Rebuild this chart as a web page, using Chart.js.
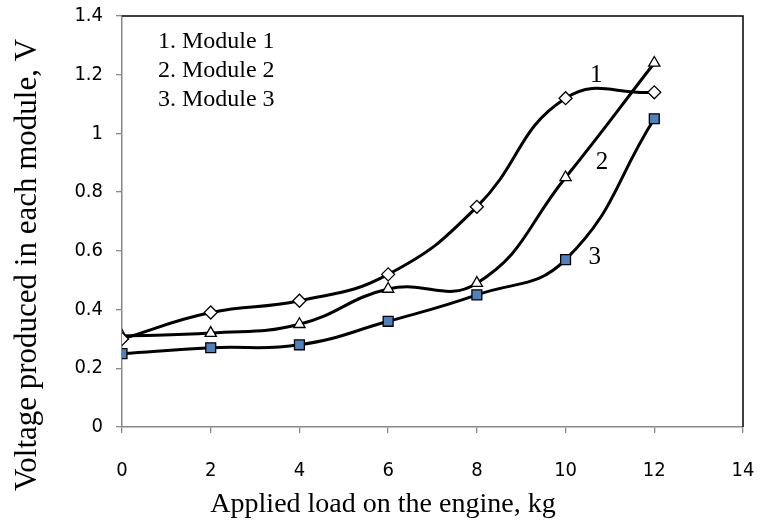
<!DOCTYPE html>
<html>
<head>
<meta charset="utf-8">
<script src="https://cdn.jsdelivr.net/npm/chart.js@4"></script>
<style>
html,body{margin:0;padding:0;background:#fff;}
#wrap{width:770px;height:521px;position:relative;}
</style>
</head>
<body>
<div id="wrap"><canvas id="c" width="770" height="521"></canvas></div>
<script>
const loads = [0, 2, 4, 6, 8, 10, 12];
const module1 = [0.30, 0.39, 0.43, 0.52, 0.75, 1.12, 1.14];
const module2 = [0.31, 0.32, 0.35, 0.47, 0.49, 0.85, 1.24];
const module3 = [0.25, 0.27, 0.28, 0.36, 0.45, 0.57, 1.05];
const legendLines = ['1. Module 1', '2. Module 2', '3. Module 3'];
const curveLabels = ['1', '2', '3'];
const xTicks = [0, 2, 4, 6, 8, 10, 12, 14];
const yTicks = [0, 0.2, 0.4, 0.6, 0.8, 1, 1.2, 1.4];
const xTitle = 'Applied load on the engine, kg';
const yTitle = 'Voltage produced in each module, V';

const toPts = (arr) => loads.map((x, i) => ({x: x, y: arr[i]}));

const serif = "'Liberation Serif', 'Times New Roman', serif";
const narrow = "'DejaVu Sans Condensed', 'Liberation Sans Narrow', sans-serif";

const overlay = {
  id: 'overlay',
  afterDraw(chart) {
    const ctx = chart.ctx, a = chart.chartArea;
    const xs = chart.scales.x, ys = chart.scales.y;
    ctx.save();
    // top and right frame
    ctx.strokeStyle = '#000';
    ctx.lineWidth = 1.5;
    ctx.beginPath();
    ctx.moveTo(a.left, a.top);
    ctx.lineTo(a.right, a.top);
    ctx.lineTo(a.right, a.bottom);
    ctx.stroke();
    ctx.fillStyle = '#000';
    ctx.textAlign = 'center';
    ctx.textBaseline = 'middle';
    // x axis title
    ctx.font = "28px " + serif;
    ctx.fillText(xTitle, 383, 505);
    // y axis title
    ctx.save();
    ctx.font = "31px " + serif;
    ctx.translate(28, 265);
    ctx.rotate(-Math.PI / 2);
    ctx.fillText(yTitle, 0, 0);
    ctx.restore();
    // legend text
    ctx.font = "24px " + serif;
    ctx.textAlign = 'left';
    const ly = [1.311, 1.212, 1.114];
    legendLines.forEach((t, i) => ctx.fillText(t, xs.getPixelForValue(0.81), ys.getPixelForValue(ly[i])));
    // curve labels
    ctx.font = "25px " + serif;
    ctx.textAlign = 'center';
    const cx = [10.69, 10.82, 10.66];
    const cy = [1.199, 0.90, 0.576];
    curveLabels.forEach((t, i) => ctx.fillText(t, xs.getPixelForValue(cx[i]), ys.getPixelForValue(cy[i])));
    ctx.restore();
  }
};

new Chart(document.getElementById('c'), {
  type: 'scatter',
  data: {
    datasets: [
      {label: 'Module 1', data: toPts(module1), showLine: true, borderColor: '#000', borderWidth: 3,
       tension: 0.45, pointStyle: 'rectRot', pointRadius: 6.5, pointBackgroundColor: '#fff',
       pointBorderColor: '#000', pointBorderWidth: 1.3},
      {label: 'Module 2', data: toPts(module2), showLine: true, borderColor: '#000', borderWidth: 3,
       tension: 0.45, pointStyle: 'triangle', pointRadius: 6.5, pointBackgroundColor: '#fff',
       pointBorderColor: '#000', pointBorderWidth: 1.3},
      {label: 'Module 3', data: toPts(module3), showLine: true, borderColor: '#000', borderWidth: 3,
       tension: 0.45, pointStyle: 'rect', pointRadius: 7, pointBackgroundColor: '#4F81BD',
       pointBorderColor: '#000', pointBorderWidth: 1.3}
    ]
  },
  options: {
    responsive: false,
    animation: false,
    layout: {padding: {top: 16, right: 27, left: 0, bottom: 0}},
    plugins: {legend: {display: false}, tooltip: {enabled: false}},
    scales: {
      x: {
        type: 'linear', min: 0, max: 14,
        afterBuildTicks: (s) => { s.ticks = xTicks.map(v => ({value: v})); },
        afterFit: (s) => { s.height = 94; s.paddingLeft = 0; s.paddingRight = 0; },
        grid: {display: true, drawOnChartArea: false, drawTicks: true, tickLength: 6, color: '#888', lineWidth: 1.3},
        border: {display: true, color: '#888', width: 1.5},
        ticks: {color: '#000', font: {family: narrow, size: 20}, padding: 26,
                callback: (v) => String(Math.round(v * 10) / 10)}
      },
      y: {
        type: 'linear', min: 0, max: 1.4,
        afterBuildTicks: (s) => { s.ticks = yTicks.map(v => ({value: v})); },
        afterFit: (s) => { s.width = 122; s.paddingTop = 0; s.paddingBottom = 0; },
        grid: {display: true, drawOnChartArea: false, drawTicks: true, tickLength: 6, color: '#888', lineWidth: 1.3},
        border: {display: true, color: '#888', width: 1.5},
        ticks: {color: '#000', font: {family: narrow, size: 20}, padding: 13,
                callback: (v) => String(Math.round(v * 10) / 10)}
      }
    }
  },
  plugins: [overlay]
});
</script>
</body>
</html>
